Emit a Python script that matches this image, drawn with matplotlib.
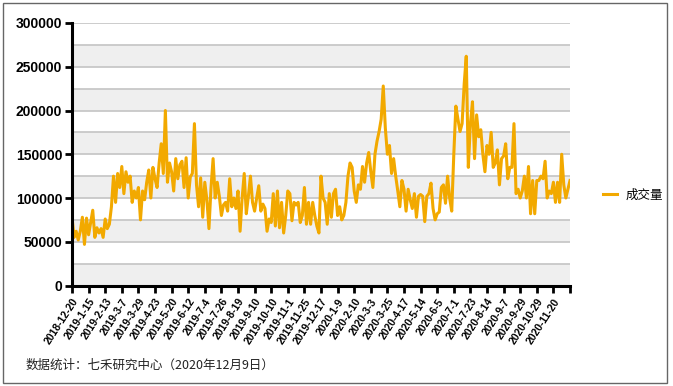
import numpy as np
import matplotlib
matplotlib.use("Agg")
import matplotlib.pyplot as plt
from matplotlib.patches import Rectangle
from matplotlib.ticker import FixedLocator

plt.rcParams['font.family'] = ['Liberation Sans', 'Noto Sans CJK SC', 'DejaVu Sans']

# 成交量, sampled every 2 trading days (unit: thousand)
volume_k = [
    78, 55, 62, 52, 62, 78, 47, 77, 58, 72, 86, 55, 66, 60, 65, 55, 76, 65, 70, 90,
    125, 95, 128, 112, 136, 105, 130, 118, 125, 95, 108, 100, 112, 75, 108, 98, 118, 132, 100, 135,
    122,
    112, 140, 162, 128, 200, 118, 140, 130, 108, 145, 122, 138, 142, 112, 146, 100, 124, 128, 185, 115,
    90, 123, 78, 118, 98, 65, 112, 145, 100, 118, 102, 80, 92, 95, 85, 122, 90, 100, 88, 108,
    62, 100, 128, 82, 102, 125, 95, 85, 100, 114, 85, 93, 88, 62, 76, 72, 105, 68, 108, 66,
    95, 60, 80, 108, 105, 74, 95, 92, 95, 72, 80, 112, 70, 95, 70, 95, 80, 68, 60, 125,
    100, 95, 70, 105, 78, 105, 110, 80, 90, 75, 80, 95, 125, 140, 135, 108, 95, 115, 110, 136,
    118, 140, 152, 130, 112, 150, 165, 176, 190, 228, 180, 150, 160, 128, 145, 125, 108, 90, 120, 110,
    85, 110, 98, 88, 105, 78, 102, 104, 102, 73, 102, 105, 117, 88, 75, 82, 84, 112, 115, 94,
    125, 100, 85, 150, 205, 190, 176, 185, 230, 262, 135, 185, 210, 145, 195, 170, 178, 150, 130, 160,
    150, 175, 135, 140, 155, 115, 145, 148, 162, 122, 135, 135, 185, 105, 110, 100, 108, 125, 100, 136,
    82, 120, 82, 120, 120, 125, 122, 142, 100, 108, 105, 118, 95, 118, 95, 150, 115, 100, 110, 120,
]
volume = np.array(volume_k) * 1000

date_labels = [
    "2018-12-20", "2019-1-15", "2019-2-13", "2019-3-7", "2019-3-29", "2019-4-23",
    "2019-5-20", "2019-6-12", "2019-7-4", "2019-7-26", "2019-8-19", "2019-9-10",
    "2019-10-10", "2019-11-1", "2019-11-25", "2019-12-17", "2020-1-9", "2020-2-10",
    "2020-3-3", "2020-3-25", "2020-4-17", "2020-5-14", "2020-6-5", "2020-7-1",
    "2020-7-23", "2020-8-14", "2020-9-7", "2020-9-29", "2020-10-29", "2020-11-20",
]
label_step = 8  # one label every 16 trading days

W, H = 673, 386
fig = plt.figure(figsize=(W / 100, H / 100), dpi=100)
ax = fig.add_axes([72 / W, 1 - 285.5 / H, (570 - 72) / W, (285.5 - 23) / H])

x = np.arange(len(volume))
ax.plot(x, volume, color='#F2A900', lw=2.2, label='成交量', zorder=3)

ax.set_xlim(0, len(volume) - 1)
ax.set_ylim(0, 300000)

# alternating bands + grid
for k in range(12):
    if k % 2 == 0:
        ax.axhspan(k * 25000, (k + 1) * 25000, color='#EFEFEF', lw=0, zorder=0)
ax.set_yticks(range(0, 300001, 50000))
ax.yaxis.set_minor_locator(FixedLocator(range(0, 300001, 25000)))
ax.grid(True, axis='y', which='both', color='#C4C4C4', lw=1.2, zorder=1)
ax.tick_params(axis='y', which='minor', length=0)

ticks = list(range(0, len(volume), label_step))
ax.set_xticks(ticks)
ax.set_xticklabels(date_labels + [''] * (len(ticks) - len(date_labels)),
                   rotation=57, ha='right', rotation_mode='anchor',
                   fontsize=7.5, fontweight='bold')
for lab in ax.get_yticklabels():
    lab.set_fontweight('bold')
    lab.set_fontsize(10)

ax.tick_params(axis='both', which='major', length=5, width=2, color='black', pad=2)
ax.tick_params(axis='x', pad=3)
for side in ['top', 'right']:
    ax.spines[side].set_visible(False)
for side in ['left', 'bottom']:
    ax.spines[side].set_linewidth(2.2)
    ax.spines[side].set_color('black')
    ax.spines[side].set_zorder(4)

fig.legend(loc='center left', bbox_to_anchor=(592 / W, 1 - 195 / H), frameon=False,
           handlelength=1.1, handletextpad=0.7,
           prop={'family': ['Noto Sans CJK SC', 'DejaVu Sans'], 'size': 9})

fig.text(26 / W, 1 - 365 / H, "数据统计：七禾研究中心（2020年12月9日）",
         family=['Noto Sans CJK SC', 'DejaVu Sans'], fontsize=9, va='center', color='#222222')

fig.patches.append(Rectangle((3 / W, 3 / H), 664 / W, 380 / H, transform=fig.transFigure,
                             fill=False, ec='#666666', lw=1))

fig.savefig('out.png', dpi=100)
